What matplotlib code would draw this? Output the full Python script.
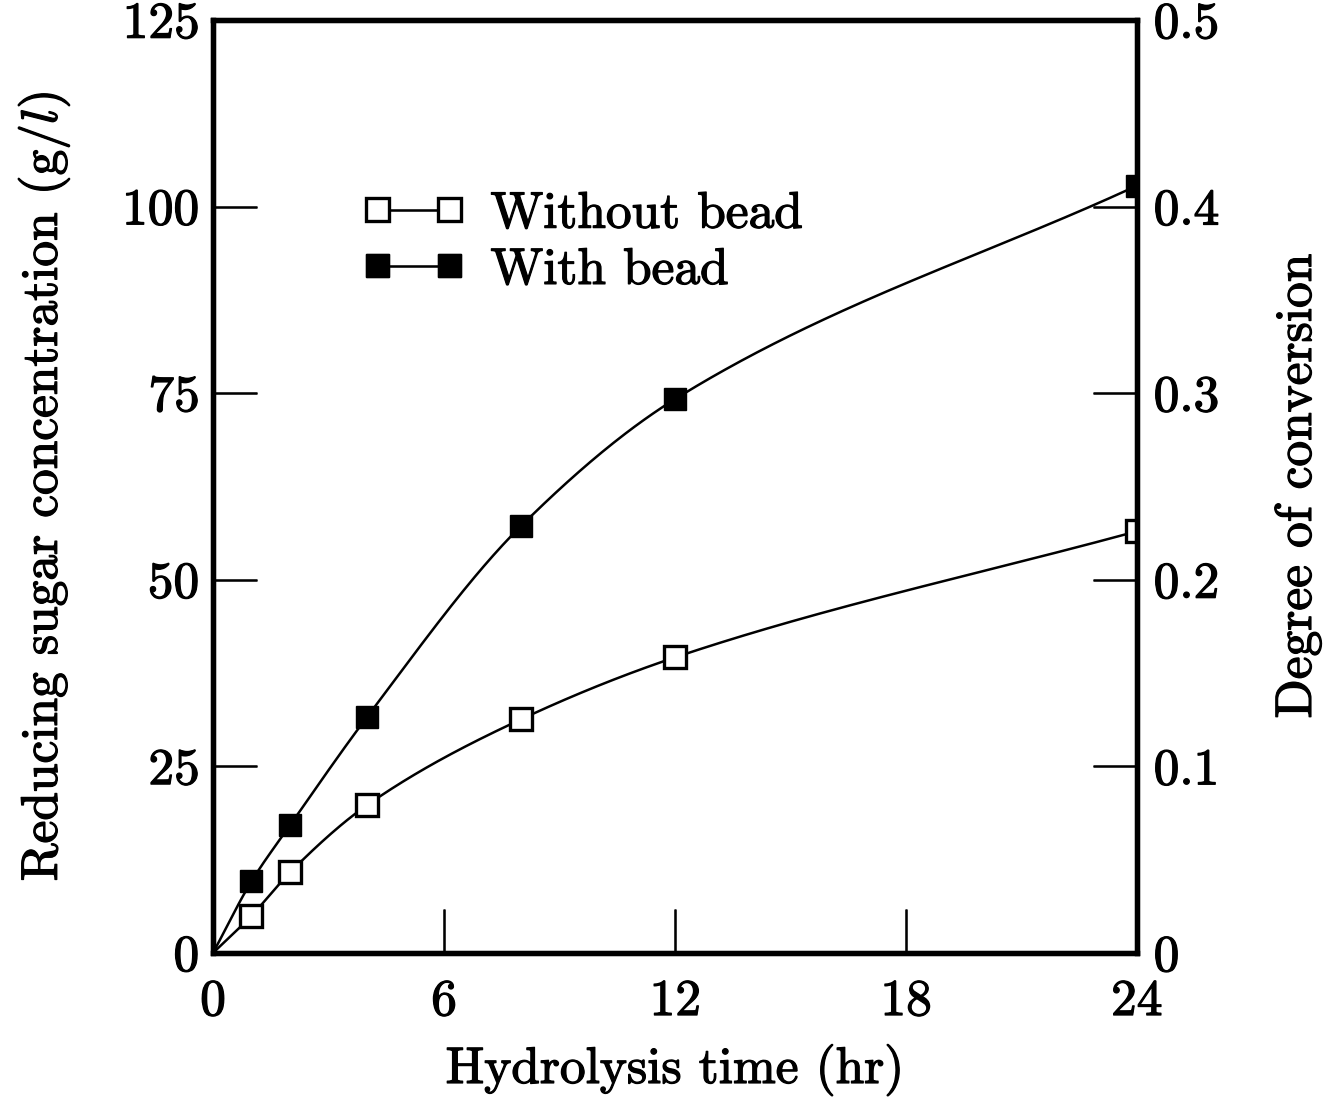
import numpy as np
from matplotlib import pyplot as plt
from matplotlib import patheffects as pe

# hydrolysis time (hr)
time = [0, 1, 2, 4, 8, 12, 24]
# reducing sugar concentration (g/l)
without_bead = [0, 5.0, 10.8, 19.8, 31.3, 39.6, 56.5]
with_bead = [0, 9.6, 17.1, 31.6, 57.2, 74.2, 102.8]

x_ticks = [0, 6, 12, 18, 24]
y_ticks = [0, 25, 50, 75, 100, 125]
y2_ticks = [0, 0.1, 0.2, 0.3, 0.4, 0.5]
y2_labels = ['0', '0.1', '0.2', '0.3', '0.4', '0.5']


def pchip(x, y, xs):
    # monotone cubic through the measured points, only for drawing the curve
    x = np.asarray(x, float)
    y = np.asarray(y, float)
    h = np.diff(x)
    d = np.diff(y) / h
    m = np.zeros_like(y)
    for k in range(1, len(x) - 1):
        if d[k - 1] * d[k] > 0:
            w1 = 2 * h[k] + h[k - 1]
            w2 = h[k] + 2 * h[k - 1]
            m[k] = (w1 + w2) / (w1 / d[k - 1] + w2 / d[k])
    m[0] = d[0]
    m[-1] = d[-1]
    idx = np.clip(np.searchsorted(x, xs) - 1, 0, len(x) - 2)
    t = (xs - x[idx]) / h[idx]
    h00 = 2 * t**3 - 3 * t**2 + 1
    h10 = t**3 - 2 * t**2 + t
    h01 = -2 * t**3 + 3 * t**2
    h11 = t**3 - t**2
    return h00 * y[idx] + h10 * h[idx] * m[idx] + h01 * y[idx + 1] + h11 * h[idx] * m[idx + 1]


plt.rcParams['font.family'] = 'cmr10'
plt.rcParams['mathtext.fontset'] = 'cm'
plt.rcParams['axes.formatter.use_mathtext'] = True
plt.rcParams['path.effects'] = [pe.withStroke(linewidth=0.9, foreground='black')]
FS = 37

fig = plt.figure(figsize=(13.43, 10.97), dpi=100)
ax = fig.add_axes([0.1586, 0.1313, 0.688, 0.8505])

xs = np.linspace(0, 24, 400)
ax.plot(xs, pchip(time, without_bead, xs), color='black', lw=1.8, path_effects=[])
ax.plot(xs, pchip(time, with_bead, xs), color='black', lw=1.8, path_effects=[])
ax.plot(time[1:], without_bead[1:], linestyle='none', marker='s', markersize=16.5,
        markerfacecolor='white', markeredgecolor='black', markeredgewidth=2.4, path_effects=[])
ax.plot(time[1:], with_bead[1:], linestyle='none', marker='s', markersize=16.5,
        markerfacecolor='black', markeredgecolor='black', path_effects=[])

# legend handles
h1, = ax.plot([], [], color='black', lw=1.8, marker='s', markersize=16.5,
              markerfacecolor='white', markeredgecolor='black', markeredgewidth=2.4,
              label='Without bead')
h2, = ax.plot([], [], color='black', lw=1.8, marker='s', markersize=16.5,
              markerfacecolor='black', label='With bead')
leg = ax.legend(handles=[h1, h2], loc='upper left', bbox_to_anchor=(0.139, 0.838),
                frameon=False, numpoints=2, handlelength=2.0, handletextpad=0.5,
                fontsize=FS, labelspacing=0.2, borderaxespad=0)

ax.set_xlim(0, 24)
ax.set_ylim(0, 125)
ax.set_xticks(x_ticks)
ax.set_yticks(y_ticks)
ax.tick_params(axis='both', direction='in', length=32, width=1.8, labelsize=FS, pad=10)
ax.tick_params(axis='x', pad=19)
ax.set_xlabel('Hydrolysis time (hr)', fontsize=FS, labelpad=14)
ax.set_ylabel('Reducing sugar concentration (g/$l$)', fontsize=FS, labelpad=36)
for s in ax.spines.values():
    s.set_linewidth(3.8)

ax2 = ax.twinx()
ax2.set_ylim(0, 0.5)
ax2.set_yticks(y2_ticks)
ax2.set_yticklabels(y2_labels)
ax2.tick_params(axis='y', direction='in', length=32, width=1.8, labelsize=FS, pad=12)
ax2.set_ylabel('Degree of conversion', fontsize=FS, labelpad=40)
for s in ax2.spines.values():
    s.set_linewidth(3.8)

fig.savefig('out.png', dpi=100)
